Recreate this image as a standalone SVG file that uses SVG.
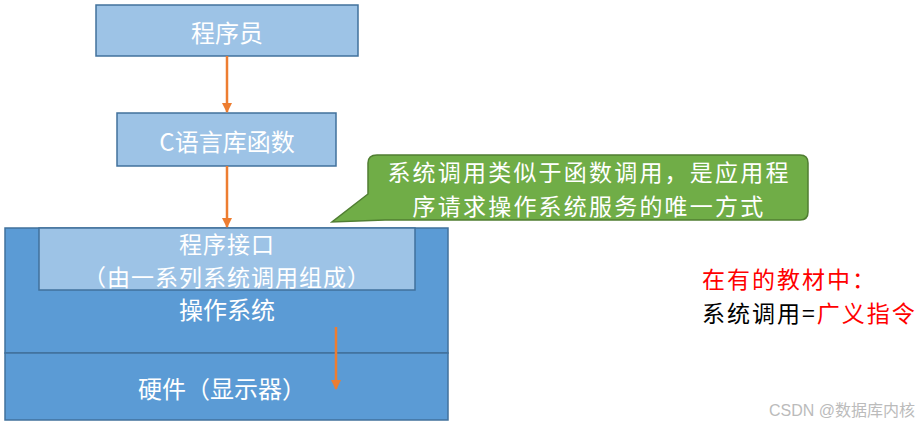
<svg xmlns="http://www.w3.org/2000/svg" width="918" height="425" viewBox="0 0 918 425">
<style>
.light{fill:#9DC3E6;stroke:#41719C;stroke-width:1.5}
.dark{fill:#5B9BD5;stroke:#41719C;stroke-width:1.5}
.t{font-family:"Noto Sans CJK SC","Noto Sans",sans-serif;font-size:24px;fill:#fff;text-anchor:middle;dominant-baseline:central}
.t2{font-size:23px}
.r{font-family:"Noto Sans CJK SC","Noto Sans",sans-serif;font-size:23px;letter-spacing:2px;dominant-baseline:central}
.arr{stroke:#ED7D31;stroke-width:2.5;fill:none;marker-end:url(#ah)}
</style>
<defs>
<marker id="ah" viewBox="0 0 10 10" refX="9" refY="5" markerWidth="4" markerHeight="4" orient="auto" markerUnits="strokeWidth">
<path d="M0,0 L10,5 L0,10 z" fill="#ED7D31"/>
</marker>
</defs>
<rect width="918" height="425" fill="#fff"/>
<g id="os">
<rect class="dark" x="5" y="228" width="443" height="125"/>
<text class="t" x="227" y="308">操作系统</text>
</g>
<g id="hardware">
<rect class="dark" x="5" y="353" width="443" height="67"/>
<text class="t" x="222" y="387">硬件（显示器）</text>
</g>
<g id="programmer">
<rect class="light" x="96" y="5" width="262" height="51"/>
<text class="t" x="227" y="31">程序员</text>
</g>
<g id="clib">
<rect class="light" x="117" y="113" width="219" height="53"/>
<text class="t" x="227" y="140">C语言库函数</text>
</g>
<g id="api">
<rect class="light" x="39" y="228" width="376" height="62"/>
<text class="t t2" x="227" y="243" letter-spacing="1">程序接口</text>
<text class="t t2" x="227" y="276" letter-spacing="1">（由一系列系统调用组成）</text>
</g>
<g id="callout">
<path d="M377,155 H800 Q808,155 808,163 V212 Q808,220 800,220 H385 L332,222 L368,194 V163 Q368,155 377,155 Z" fill="#70AD47" stroke="#507E32" stroke-width="1.5"/>
<text class="t t2" x="589" y="171" letter-spacing="2.2">系统调用类似于函数调用，是应用程</text>
<text class="t t2" x="589" y="205" letter-spacing="2.2">序请求操作系统服务的唯一方式</text>
</g>
<g id="note">
<text class="r" x="702" y="278" fill="#FF0000">在有的教材中：</text>
<text class="r" x="702" y="312"><tspan fill="#000">系统调用=</tspan><tspan fill="#FF0000">广义指令</tspan></text>
</g>
<g id="connectors">
<line class="arr" x1="227" y1="56" x2="227" y2="112"/>
<line class="arr" x1="227" y1="166" x2="227" y2="227"/>
<line class="arr" x1="336" y1="327" x2="336" y2="389"/>
</g>
<text x="915" y="410" text-anchor="end" dominant-baseline="central" font-family="'Liberation Sans','Noto Sans CJK SC',sans-serif" font-size="16" fill="#BBBBBB">CSDN @数据库内核</text>
</svg>
